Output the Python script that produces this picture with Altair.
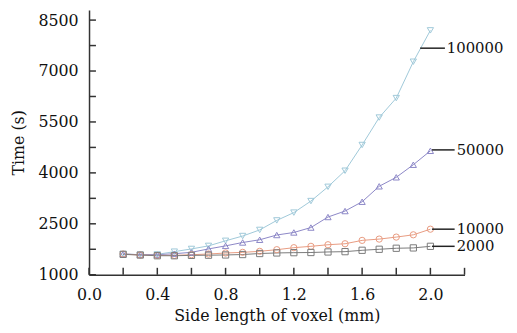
import altair as alt
import pandas as pd

x_vals = [0.2, 0.3, 0.4, 0.5, 0.6, 0.7, 0.8, 0.9, 1.0, 1.1, 1.2, 1.3, 1.4, 1.5, 1.6, 1.7, 1.8, 1.9, 2.0]
s100000 = [1610, 1590, 1600, 1680, 1760, 1850, 2000, 2140, 2320, 2600, 2830, 3170, 3590, 4064, 4822, 5630, 6203, 7274, 8198]
s50000 = [1610, 1590, 1590, 1620, 1660, 1760, 1850, 1950, 2030, 2170, 2245, 2390, 2700, 2876, 3150, 3605, 3870, 4240, 4650]
s10000 = [1610, 1580, 1570, 1570, 1590, 1610, 1640, 1660, 1690, 1738, 1797, 1837, 1884, 1913, 2012, 2050, 2109, 2176, 2342]
s2000 = [1600, 1580, 1560, 1560, 1570, 1575, 1583, 1595, 1625, 1642, 1650, 1655, 1671, 1680, 1720, 1750, 1780, 1790, 1837]

series_names = ["100000", "50000", "10000", "2000"]
series_vals = [s100000, s50000, s10000, s2000]
colors = ["#9ec8d8", "#8b86c6", "#e89a80", "#7a7a7a"]
shapes = ["triangle-down", "triangle-up", "circle", "square"]

x_tick_vals = [0.0, 0.2, 0.4, 0.6, 0.8, 1.0, 1.2, 1.4, 1.6, 1.8, 2.0, 2.2]
x_label_vals = [0.0, 0.4, 0.8, 1.2, 1.6, 2.0]
y_tick_vals = [1000, 1750, 2500, 3250, 4000, 4750, 5500, 6250, 7000, 7750, 8500]
y_label_vals = [1000, 2500, 4000, 5500, 7000, 8500]

# annotation leader lines: label, x start, x end, y, text x
ann_labels = ["100000", "50000", "10000", "2000"]
ann_x0 = [1.94, 2.009, 2.009, 2.009]
ann_x1 = [2.085, 2.142, 2.142, 2.142]
ann_y = [7673, 4677, 2342, 1837]
ann_tx = [2.096, 2.154, 2.154, 2.154]

rows = []
for name, vals in zip(series_names, series_vals):
    for xv, yv in zip(x_vals, vals):
        rows.append({"x": xv, "y": yv, "series": name})
df = pd.DataFrame(rows)
ann = pd.DataFrame({"label": ann_labels, "x0": ann_x0, "x1": ann_x1, "y": ann_y, "tx": ann_tx})
xt_df = pd.DataFrame({"v": x_tick_vals})
yt_df = pd.DataFrame({"v": y_tick_vals})

W, H = 380, 268
FONT = "DejaVu Serif"
X_MIN, X_MAX, Y_MIN, Y_MAX = 0, 2.2, 1000, 8800
TICK_PX = 7

xs = alt.Scale(domain=[X_MIN, X_MAX], nice=False, zero=False)
ys = alt.Scale(domain=[Y_MIN, Y_MAX], nice=False, zero=False)
cs = alt.Scale(domain=series_names, range=colors)
ss = alt.Scale(domain=series_names, range=shapes)

base = alt.Chart(df)
lines = base.mark_line(strokeWidth=1).encode(
    x=alt.X("x:Q", scale=xs, axis=alt.Axis(values=x_label_vals, format=".1f", title="Side length of voxel (mm)",
                                           ticks=False, tickSize=0, grid=False, labelFlush=False,
                                           labelPadding=12, titlePadding=5)),
    y=alt.Y("y:Q", scale=ys, axis=alt.Axis(values=y_label_vals, format="d", title="Time (s)",
                                           ticks=False, tickSize=0, grid=False, labelFlush=False,
                                           labelPadding=11, titlePadding=12)),
    color=alt.Color("series:N", scale=cs, legend=None),
    detail="series:N",
)
points = base.mark_point(filled=False, size=40, strokeWidth=1, opacity=1).encode(
    x=alt.X("x:Q", scale=xs),
    y=alt.Y("y:Q", scale=ys),
    color=alt.Color("series:N", scale=cs, legend=None),
    shape=alt.Shape("series:N", scale=ss, legend=None),
)

# inward ticks: length given in data units derived from pixel length
y_len = TICK_PX * (Y_MAX - Y_MIN) / H
x_len = TICK_PX * (X_MAX - X_MIN) / W
xt = alt.Chart(xt_df).mark_rule(color="#333333", strokeWidth=1.5).encode(
    x=alt.X("v:Q", scale=xs), y=alt.datum(Y_MIN), y2=alt.datum(Y_MIN + y_len))
yt = alt.Chart(yt_df).mark_rule(color="#333333", strokeWidth=1.5).encode(
    y=alt.Y("v:Q", scale=ys), x=alt.datum(X_MIN), x2=alt.datum(X_MIN + x_len))

leaders = alt.Chart(ann).mark_rule(color="#222222", strokeWidth=1.5).encode(
    x=alt.X("x0:Q", scale=xs), x2="x1:Q", y=alt.Y("y:Q", scale=ys))
texts = alt.Chart(ann).mark_text(align="left", baseline="middle", font=FONT, fontSize=15, color="#111111").encode(
    x=alt.X("tx:Q", scale=xs), y=alt.Y("y:Q", scale=ys), text="label:N")

chart = alt.layer(lines, points, xt, yt, leaders, texts).properties(
    width=W, height=H,
    autosize=alt.AutoSizeParams(type="none"),
    padding={"left": 82, "top": 0, "right": 45, "bottom": 55},
).configure_view(stroke=None).configure_axis(
    domainColor="#333333", domainWidth=1.5, labelFont=FONT, titleFont=FONT,
    labelFontSize=16, titleFontSize=16, labelColor="#111111", titleColor="#111111",
    titleFontWeight="normal",
)

chart.save("out.html", embed_options={"renderer": "svg", "actions": False})
